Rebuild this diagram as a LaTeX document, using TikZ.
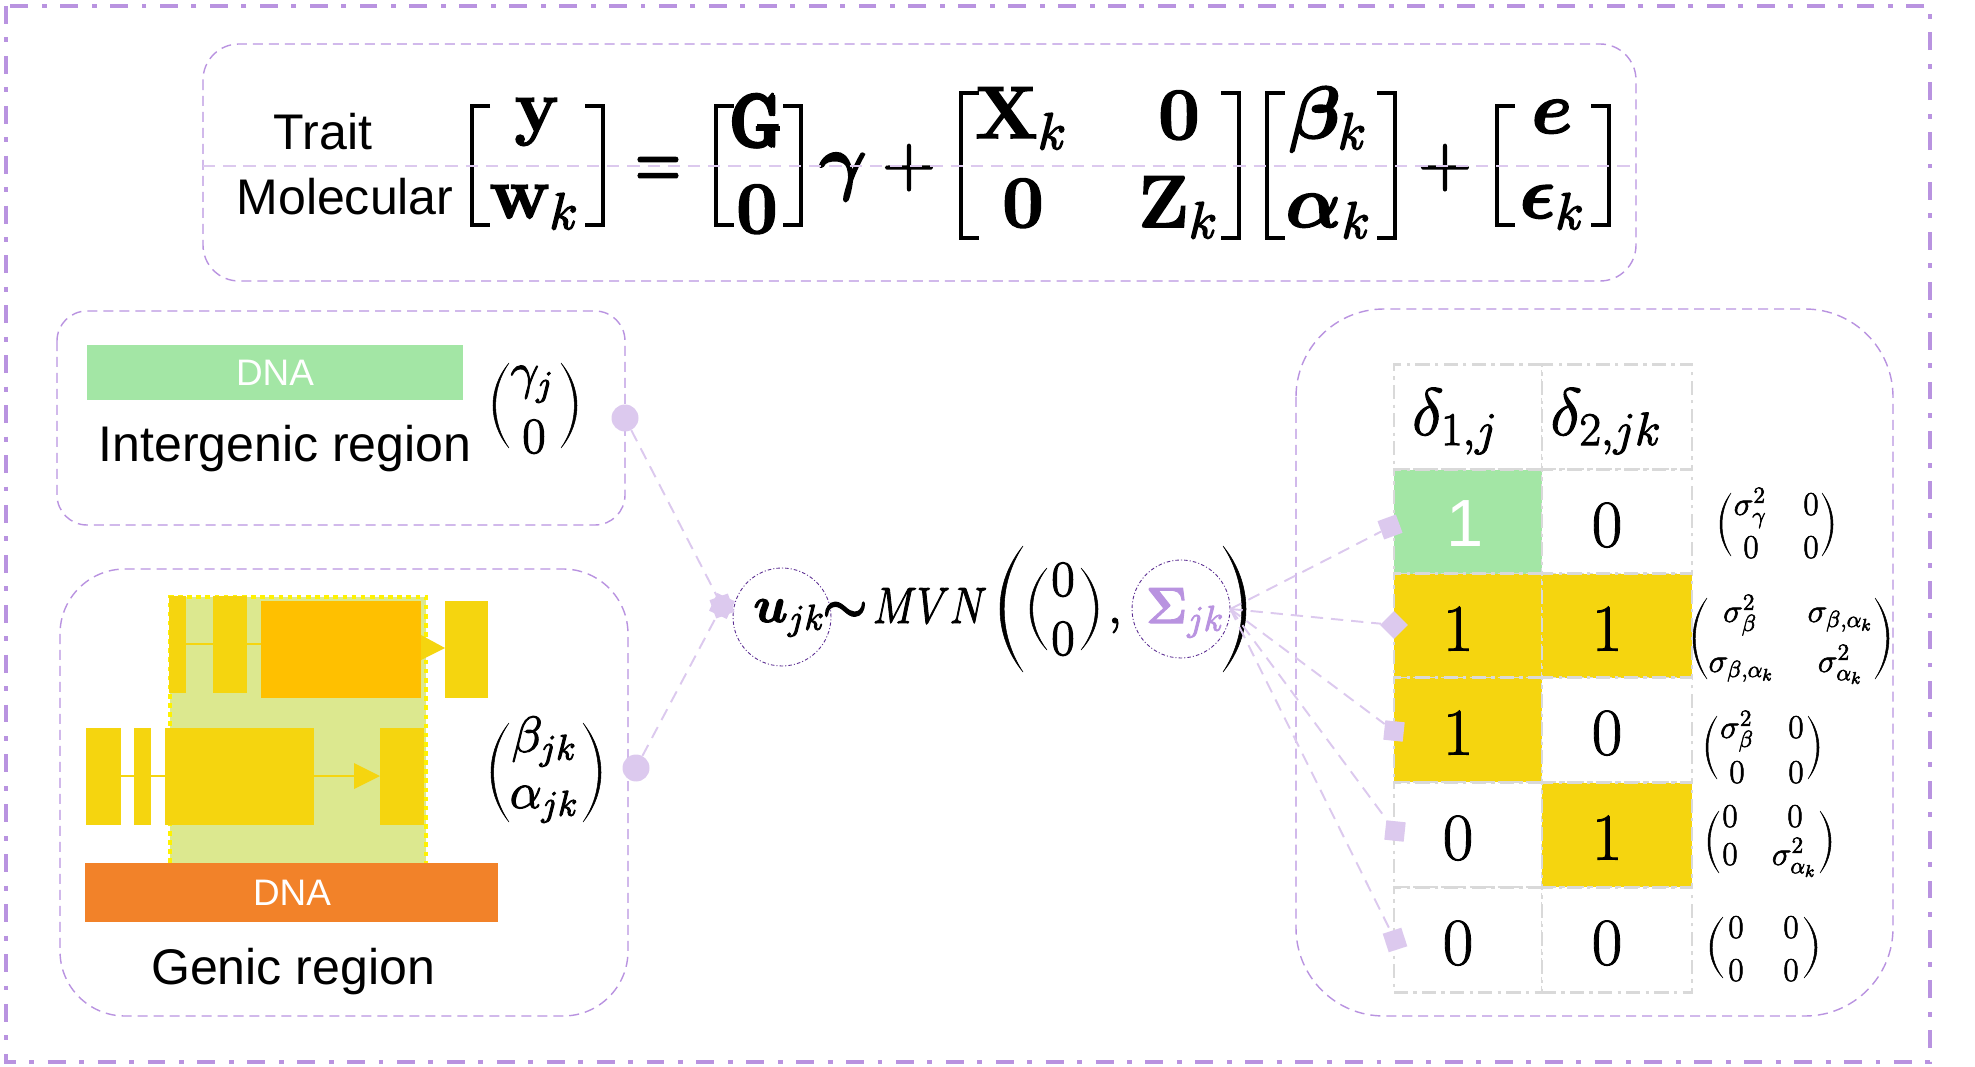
\documentclass[tikz,border=0pt]{standalone}
\usepackage{fix-cm}
\usepackage{amsmath, amssymb, exscale, bm, graphicx}
\usepackage[no-math]{fontspec}
\usepackage{tikz}
\newfontfamily\arialfont{Liberation Sans}
\definecolor{framepurple}{HTML}{B993E0}
\definecolor{palepurple}{HTML}{DCC9EE}
\definecolor{darkpurple}{HTML}{5B2C91}
\definecolor{exonyellow}{HTML}{F5D50F}
\definecolor{cdsorange}{HTML}{FFC000}
\definecolor{dnaorange}{HTML}{F28229}
\definecolor{dnagreen}{HTML}{A3E6A5}
\definecolor{genegreen}{HTML}{DCE88F}
\definecolor{gridgrey}{HTML}{D9D9D9}
\newcommand{\cellnum}[1]{$#1$\hspace*{11.4pt}}
\newcommand{\stoutmath}[1]{\special{pdf:code 2 Tr #1 w}}
\tikzset{
  outerframe/.style={draw=framepurple,line width=2.2pt,dash pattern=on 10.2pt off 7.7pt on 2.8pt off 7.7pt},
  regionbox/.style={draw=framepurple,line width=.8pt,dash pattern=on 5.7pt off 3.4pt},
  linkline/.style={draw=palepurple,line width=1.1pt,dash pattern=on 7pt off 4.5pt},
  brk/.style={draw=black,line width=2pt},
  parenfill/.style={fill=black,draw=black,line width=.3pt},
  eqtext/.style={anchor=base,inner sep=0pt,font=\fontsize{42}{50}\selectfont\stoutmath{.9}},
  sanstext/.style={anchor=base,inner sep=0pt,font=\arialfont\fontsize{28.5}{34}\selectfont},
  dnatext/.style={inner sep=0pt,text=white,font=\arialfont\fontsize{21}{25}\selectfont},
  mathtext/.style={anchor=base,inner sep=0pt,font=\fontsize{29}{34}\selectfont\stoutmath{.6}},
  deltatext/.style={anchor=base,inner sep=0pt,font=\fontsize{38}{44}\selectfont\stoutmath{.6}},
  smallmat/.style={anchor=base,inner sep=0pt,font=\fontsize{19}{22}\selectfont\stoutmath{.35}},
  linkdot/.style={circle,fill=palepurple,minimum size=.54cm,inner sep=0pt},
  linkmark/.style={rectangle,fill=palepurple,minimum size=.39cm,inner sep=0pt},
  dashcircle/.style={circle,draw=darkpurple,line width=.5pt,dash pattern=on 2pt off 1.2pt on .6pt off 1.2pt,minimum size=1.96cm,inner sep=0pt},
  cellbox/.style={draw=gridgrey,line width=1.6pt,dash pattern=on 8pt off 3pt on 2pt off 3pt,
    minimum height=2.1cm,inner sep=0pt,text height=28pt,text depth=0pt,font=\fontsize{38}{44}\selectfont},
}
\begin{document}
\begin{tikzpicture}[x=.02cm,y=-.02cm]
  \useasboundingbox (0,0) rectangle (1975,1067);
  \draw[outerframe] (6,6) rectangle (1930,1062);
  % boxes
  \draw[regionbox,rounded corners=.72cm] (203,44) rectangle (1636,281);
  \draw[regionbox,rounded corners=.6cm] (57,311) rectangle (625,525);
  \draw[regionbox,rounded corners=1.3cm] (60,569) rectangle (628,1016);
  \draw[regionbox,rounded corners=1.76cm] (1296,309) rectangle (1893,1016);
  % equation
  \node[sanstext] (traitlabel) at (323,150) {Trait};
  \node[sanstext] (mollabel) at (345,215) {Molecular};
  \foreach \xa/\xb/\ya/\yb in {472/603/106/225,716/801/106/225,961/1239/93/238,1267/1395/93/238,1497/1609/106/225}
    \draw[brk] ({\xa+18},\ya) -- (\xa,\ya) -- (\xa,\yb) -- ({\xa+18},\yb)
      ({\xb-18},\ya) -- (\xb,\ya) -- (\xb,\yb) -- ({\xb-18},\yb);
  \node[eqtext] (eqy) at (537,131) {$\mathbf{y}$};
  \node[eqtext] (eqw) at (534,218) {$\mathbf{w}_k$};
  \node[eqtext] (eqsign) at (658,186) {\scalebox{.72}[1]{$\bm{=}$}};
  \node[eqtext] (eqG) at (757,147) {\scalebox{.78}[1]{$\pmb{\mathbf{G}}$}};
  \node[eqtext] (eqGz) at (757,233) {$\mathbf{0}$};
  \node[eqtext] (eqgamma) at (843,186) {$\bm{\gamma}$};
  \node[eqtext] (plusa) at (909,186) {$+$};
  \node[eqtext] (eqX) at (1021,138) {$\mathbf{X}_k$};
  \node[eqtext] (eqXz) at (1179,139) {$\mathbf{0}$};
  \node[eqtext] (eqZz) at (1023,227) {$\mathbf{0}$};
  \node[eqtext] (eqZ) at (1178,227) {$\mathbf{Z}_k$};
  \node[eqtext] (eqbeta) at (1328,138) {$\bm{\beta}_k$};
  \node[eqtext] (eqalpha) at (1328,227) {$\bm{\alpha}_k$};
  \node[eqtext] (plusb) at (1445,186) {$+$};
  \node[eqtext] (eqe) at (1552,133) {$\bm{e}$};
  \node[eqtext] (eqeps) at (1552,218) {$\bm{\epsilon}_k$};
  \coordinate (midleft) at (203,166);
  \coordinate (midright) at (1636,166);
  \draw[linkline] (midleft) -- (midright);
  % round brackets
  \foreach \xa/\xb/\ya/\yb/\pw/\pth in {493/577/363/448/16/2.6, 491/601/723/822/18/2.6, 1030/1098/568/650/17/2.6,
      1000/1246/546/672/23/4.2, 1720/1833/493/556/11/2, 1693/1889/598/679/14/2.2, 1706/1819/716/779/11/2,
      1708/1831/811/873/11/2, 1710/1817/917/978/13/2.2} {
    \filldraw[parenfill] ({\xa+\pw},\ya) .. controls ({\xa-\pw/3},{\ya+.3*(\yb-\ya)}) and ({\xa-\pw/3},{\ya+.7*(\yb-\ya)}) .. ({\xa+\pw},\yb)
      .. controls ({\xa+\pw-(\pw-\pth)/.75},{\ya+.7*(\yb-\ya)}) and ({\xa+\pw-(\pw-\pth)/.75},{\ya+.3*(\yb-\ya)}) .. cycle;
    \filldraw[parenfill] ({\xb-\pw},\ya) .. controls ({\xb+\pw/3},{\ya+.3*(\yb-\ya)}) and ({\xb+\pw/3},{\ya+.7*(\yb-\ya)}) .. ({\xb-\pw},\yb)
      .. controls ({\xb-\pw+(\pw-\pth)/.75},{\ya+.7*(\yb-\ya)}) and ({\xb-\pw+(\pw-\pth)/.75},{\ya+.3*(\yb-\ya)}) .. cycle;
  }
  % intergenic region
  \fill[dnagreen] (87,345) rectangle (463,400);
  \node[dnatext] (dnaa) at (275,373) {DNA};
  \node[sanstext] (interlabel) at (285,461) {Intergenic region};
  \node[mathtext] (gammaent) at (532,388) {$\gamma_j$};
  \node[mathtext] (gammazero) at (534,453) {$0$};
  % genic region
  \fill[genegreen] (170,597) rectangle (426,863);
  \draw[yellow,line width=2.2pt,dash pattern=on 2.6pt off 2.6pt] (170,863) -- (170,597) -- (426,597) -- (426,863);
  \draw[exonyellow,line width=1.3pt] (186,644) -- (261,644);
  \draw[exonyellow,line width=1.3pt] (121,776) -- (165,776) (314,776) -- (355,776);
  \foreach \xa/\ya/\xb/\yb in {169/596/186/693,213/596/247/693,445/601/488/698,86/728/121/825,134/728/151/825,165/728/314/825,380/728/424/825}
    \fill[exonyellow] (\xa,\ya) rectangle (\xb,\yb);
  \fill[cdsorange] (261,601) rectangle (421,698);
  \fill[exonyellow] (421,635) -- (445,648) -- (421,660) -- cycle;
  \fill[exonyellow] (354,763) -- (380,776) -- (354,789) -- cycle;
  \fill[dnaorange] (85,863) rectangle (498,922);
  \node[dnatext] (dnab) at (292,893) {DNA};
  \node[sanstext] (geniclabel) at (293,984) {Genic region};
  \node[mathtext] (betaent) at (544,752) {$\beta_{jk}$};
  \node[mathtext] (alphaent) at (544,808) {$\alpha_{jk}$};
  % distribution
  \node[dashcircle] (ucirc) at (782,617) {};
  \node[dashcircle] (sigmacirc) at (1181,609) {};
  \node[mathtext] (utext) at (789,622) {$\bm{u}_{jk}$};
  \node[mathtext] (simtext) at (845,622) {$\bm{\sim}$};
  \node[mathtext] (mvntext) at (930,623) {\scalebox{.82}[1]{$MVN$}};
  \node[mathtext] (zeroa) at (1063,596) {$0$};
  \node[mathtext] (zerob) at (1063,655) {$0$};
  \node[mathtext] (commatext) at (1115,623) {$,$};
  \node[mathtext,text=framepurple] (sigmatext) at (1185,623) {$\bm{\Sigma}_{jk}$};
  % table
  \foreach \cname/\cx/\cy/\cw/\cfill/\ctext in {
    headone/1468/417/148/white/{},
    headtwo/1617/417/150/white/{},
    cellaa/1468/522/148/dnagreen/{\textcolor{white}{\arialfont 1}\hspace*{3.4pt}},
    cellab/1617/522/150/white/{\stoutmath{.5}\cellnum{0}},
    cellba/1468/626/148/exonyellow/{\stoutmath{.5}\cellnum{1}},
    cellbb/1617/626/150/exonyellow/{\stoutmath{.5}\cellnum{1}},
    cellca/1468/730/148/exonyellow/{\stoutmath{.5}\cellnum{1}},
    cellcb/1617/730/150/white/{\stoutmath{.5}\cellnum{0}},
    cellda/1468/835/148/white/{\stoutmath{.5}\cellnum{0}},
    celldb/1617/835/150/exonyellow/{\stoutmath{.5}\cellnum{1}},
    cellea/1468/940/148/white/{\stoutmath{.5}\cellnum{0}},
    celleb/1617/940/150/white/{\stoutmath{.5}\cellnum{0}}}
    \node[cellbox,minimum width=\cw*.02cm,fill=\cfill] (\cname) at (\cx,\cy) {\ctext};
  \node[deltatext] (deltaa) at (1455,435) {$\delta_{1,j}$};
  \node[deltatext] (deltab) at (1606,435) {$\delta_{2,jk}$};
  % covariance entries
  \foreach \ename/\ex/\ey/\etext in {
    mataa/1750/515/{\sigma_\gamma^2}, matab/1811/515/{0}, mataba/1751/558/{0}, matabb/1811/558/{0},
    matba/1740/622/{\sigma_\beta^2}, matbb/1840/622/{\sigma_{\beta,\alpha_k}}, matbc/1741/672/{\sigma_{\beta,\alpha_k}}, matbd/1840/672/{\sigma_{\alpha_k}^2},
    matca/1737/738/{\sigma_\beta^2}, matcb/1796/738/{0}, matcc/1737/783/{0}, matcd/1796/783/{0},
    matda/1730/827/{0}, matdb/1795/827/{0}, matdc/1730/865/{0}, matdd/1794/865/{\sigma_{\alpha_k}^2},
    matea/1736/938/{0}, mateb/1791/938/{0}, matec/1736/981/{0}, mated/1791/981/{0}}
    \node[smallmat] (\ename) at (\ex,\ey) {$\etext$};
  % connectors
  \node[linkdot] (dotinter) at (625,418) {};
  \node[linkdot] (dotgenic) at (636,768) {};
  \node[linkmark,rotate=20] (markuone) at (722,606) {};
  \node[linkmark,rotate=65] (markutwo) at (722,606) {};
  \node[linkmark,rotate=20] (markone) at (1390,527) {};
  \node[linkmark,rotate=45] (marktwo) at (1394,625) {};
  \node[linkmark,rotate=-6] (markthree) at (1394,731) {};
  \node[linkmark,rotate=-6] (markfour) at (1395,831) {};
  \node[linkmark,rotate=18] (markfive) at (1395,940) {};
  \draw[linkline] (dotinter) -- (markuone);
  \draw[linkline] (dotgenic) -- (markuone);
  \foreach \mname in {markone,marktwo,markthree,markfour,markfive}
    \draw[linkline] (sigmacirc.east) -- (\mname);
\end{tikzpicture}
\end{document}
